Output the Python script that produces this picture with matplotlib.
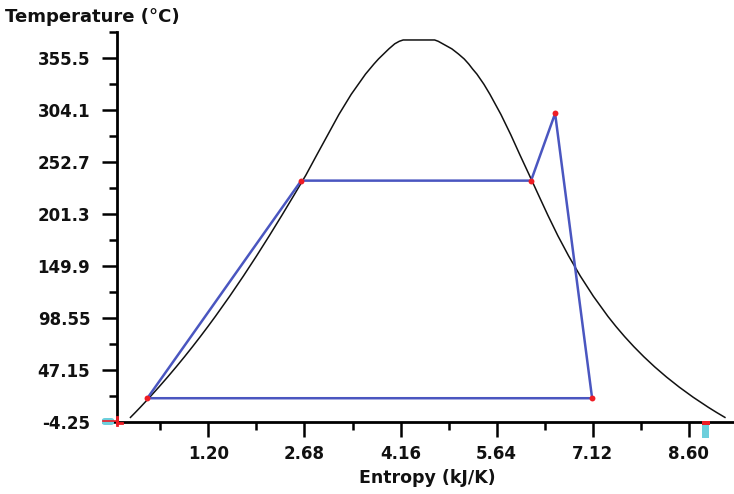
import matplotlib
matplotlib.use("Agg")
import matplotlib.pyplot as plt
from matplotlib.patches import Rectangle, FancyBboxPatch
from matplotlib.lines import Line2D

# Saturation dome (water), temperature in °C, entropy in kJ/K
dome_T = [0.01, 5, 10, 20, 30, 40, 50, 60, 70, 80, 90, 100, 120, 140, 160, 180,
          200, 220, 240, 260, 280, 300, 320, 330, 340, 345, 350, 355, 360, 365,
          370, 372.5, 373.8]
dome_sf = [0.0000, 0.0763, 0.1511, 0.2965, 0.4368, 0.5724, 0.7038, 0.8313, 0.9551,
           1.0756, 1.1929, 1.3072, 1.5279, 1.7392, 1.9426, 2.1392, 2.3305, 2.5177,
           2.7020, 2.8700, 3.0400, 3.2100, 3.4000, 3.5100, 3.6200, 3.6850, 3.7500,
           3.8200, 3.9000, 3.9800, 4.0700, 4.1400, 4.2000]
dome_sg = [9.1556, 9.0249, 8.8999, 8.6661, 8.4520, 8.2555, 8.0748, 7.9081, 7.7540,
           7.6111, 7.4781, 7.3541, 7.1291, 6.9284, 6.7475, 6.5819, 6.4302, 6.2861,
           6.1429, 5.9980, 5.8571, 5.7059, 5.5362, 5.4430, 5.3357, 5.2700, 5.2100,
           5.1400, 5.0500, 4.9500, 4.8100, 4.7400, 4.6850]

# Cycle state points
cycle_s = [0.26, 2.63, 6.17, 6.54, 7.11]
cycle_T = [19.0, 234.5, 234.5, 301.0, 19.0]

x_ticks = [1.20, 2.68, 4.16, 5.64, 7.12, 8.60]
x_tick_labels = ["1.20", "2.68", "4.16", "5.64", "7.12", "8.60"]
y_ticks = [-4.25, 47.15, 98.55, 149.95, 201.35, 252.75, 304.15, 355.55]
y_tick_labels = ["-4.25", "47.15", "98.55", "149.9", "201.3", "252.7", "304.1", "355.5"]

W, H = 734, 494
fig = plt.figure(figsize=(W / 100, H / 100), dpi=100)
ax = fig.add_axes([116.7 / W, 72.3 / H, 620.2 / W, 390.0 / H])
ax.set_xlim(-0.212, 9.277)
ax.set_ylim(-4.25, 382.0)

# dome: liquid side up, vapour side down
dome_x = dome_sf + dome_sg[::-1]
dome_y = dome_T + dome_T[::-1]
ax.plot(dome_x, dome_y, color="#111111", lw=1.1, zorder=2, solid_joinstyle="round")

blue = "#4a56c0"
ax.plot(cycle_s + [cycle_s[0]], cycle_T + [cycle_T[0]], color=blue, lw=1.8, zorder=3)
ax.scatter(cycle_s, cycle_T, s=18, color="#ee1c24", zorder=4, linewidths=0)

for side in ["top", "right"]:
    ax.spines[side].set_visible(False)
for side in ["left", "bottom"]:
    ax.spines[side].set_linewidth(2.0)
    ax.spines[side].set_color("black")

ax.set_xticks(x_ticks)
ax.set_xticklabels(x_tick_labels)
ax.set_yticks(y_ticks)
ax.set_yticklabels(y_tick_labels)
ax.set_xticks([x - 0.74 for x in x_ticks] + [x_ticks[-1] + 0.74], minor=True)
ax.set_yticks([y + 25.7 for y in y_ticks], minor=True)
ax.tick_params(which="major", length=11, width=1.8, color="black")
ax.tick_params(which="minor", length=6, width=1.8, color="black")
ax.tick_params(axis="y", which="major", pad=8)
ax.tick_params(axis="x", which="major", pad=6)
for lab in ax.get_xticklabels() + ax.get_yticklabels():
    lab.set_fontweight("bold")
    lab.set_fontsize(12)
    lab.set_color("#111111")

fig.text(5 / W, 1 - 17 / H, "Temperature (°C)", fontsize=13, fontweight="bold",
         ha="left", va="center", color="#111111")
fig.text(427 / W, 1 - 478 / H, "Entropy (kJ/K)", fontsize=12.5,
         fontweight="bold", ha="center", va="center", color="#111111")

# slider handles
cyan = "#6dcfdc"
red = "#ee1c24"
def px(x, y):
    return (x / W, 1 - y / H)
fig.add_artist(FancyBboxPatch(px(102, 425), 12 / W, 7 / H, boxstyle="round,pad=0.0,rounding_size=0.004",
                              transform=fig.transFigure, facecolor=cyan, edgecolor="none", zorder=5))
fig.add_artist(Line2D([103 / W, 118 / W], [1 - 420.5 / H] * 2, color=red, lw=1.2,
                      transform=fig.transFigure, zorder=6))
fig.add_artist(Line2D([116.5 / W] * 2, [1 - 417 / H, 1 - 425 / H], color=red, lw=2.0,
                      transform=fig.transFigure, zorder=6))
fig.add_artist(Line2D([116.5 / W, 122 / W], [1 - 422.5 / H] * 2, color=red, lw=2.0,
                      transform=fig.transFigure, zorder=6))
fig.add_artist(Rectangle(px(702, 438), 7 / W, 15 / H, transform=fig.transFigure,
                         facecolor=cyan, edgecolor="none", zorder=5))
fig.add_artist(Rectangle(px(701.5, 424.5), 8 / W, 4 / H, transform=fig.transFigure,
                         facecolor=red, edgecolor="none", zorder=6))

fig.savefig("out.png", dpi=100)
